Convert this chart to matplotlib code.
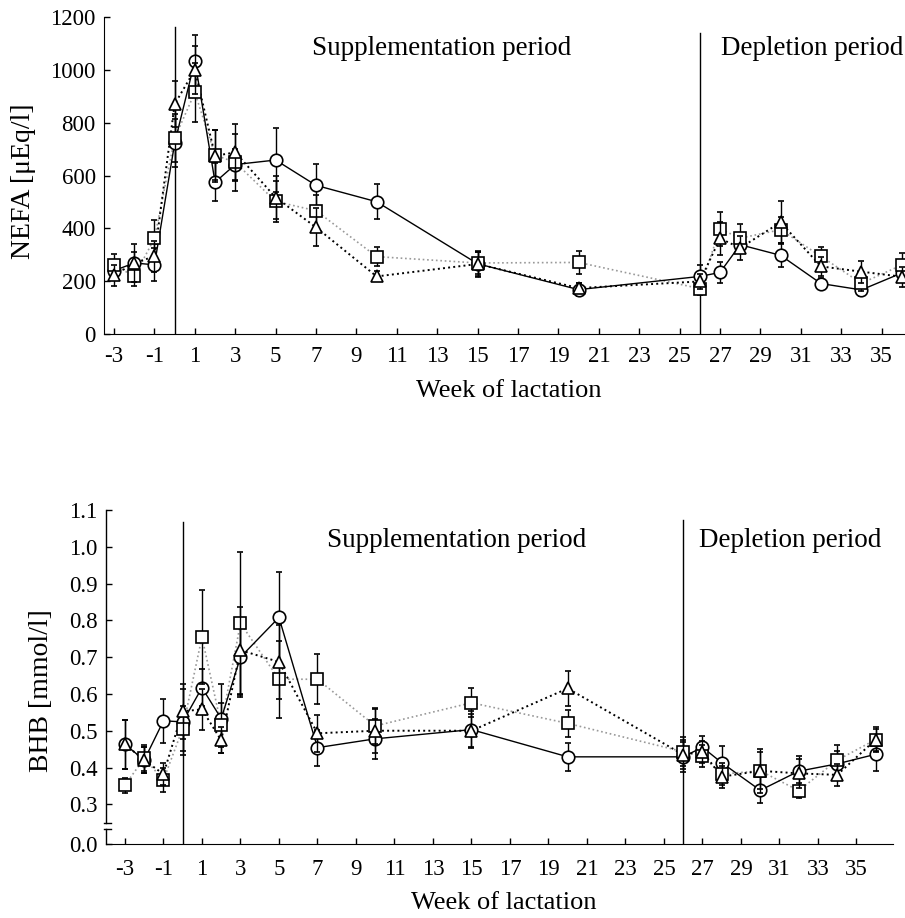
import numpy as np
import matplotlib.pyplot as plt
from matplotlib.lines import Line2D

plt.rcParams['font.family'] = ['Liberation Serif', 'DejaVu Serif']

# 周数（哺乳期）
weeks = [-3, -2, -1, 0, 1, 2, 3, 5, 7, 10, 15, 20, 26, 27, 28, 30, 32, 34, 36]
xticks = list(range(-3, 37, 2))

# NEFA [µEq/l]
nefa_circle = [240, 269, 262, 723, 1035, 575, 642, 659, 563, 501, 266, 168, 218, 233, 338, 298, 191, 167, 231]
nefa_circle_err = [35, 40, 63, 90, 98, 73, 60, 121, 81, 67, 45, 25, 42, 38, 30, 45, 20, 25, 30]
nefa_square = [262, 218, 362, 742, 915, 678, 650, 502, 467, 293, 269, 271, 172, 398, 363, 395, 294, 192, 261]
nefa_square_err = [40, 35, 71, 90, 112, 95, 107, 76, 60, 35, 40, 45, 25, 64, 53, 50, 34, 30, 44]
nefa_tri = [222, 269, 294, 871, 1001, 675, 688, 517, 404, 218, 265, 174, 199, 362, 326, 423, 256, 236, 217]
nefa_tri_err = [40, 71, 60, 88, 90, 98, 108, 80, 72, 19, 50, 20, 30, 62, 46, 82, 35, 42, 38]

# BHB [mmol/l]
bhb_circle = [0.463, 0.420, 0.527, 0.524, 0.617, 0.533, 0.700, 0.808, 0.454, 0.478, 0.503, 0.429, 0.429, 0.455, 0.413, 0.338, 0.390, 0.410, 0.436]
bhb_circle_err = [0.066, 0.035, 0.060, 0.090, 0.050, 0.094, 0.107, 0.124, 0.049, 0.054, 0.050, 0.038, 0.040, 0.030, 0.046, 0.035, 0.040, 0.035, 0.045]
bhb_square = [0.352, 0.425, 0.366, 0.506, 0.755, 0.515, 0.792, 0.640, 0.640, 0.513, 0.576, 0.520, 0.443, 0.431, 0.382, 0.391, 0.337, 0.420, 0.476]
bhb_square_err = [0.020, 0.035, 0.032, 0.060, 0.128, 0.060, 0.195, 0.105, 0.068, 0.050, 0.040, 0.036, 0.040, 0.030, 0.030, 0.060, 0.020, 0.040, 0.033]
bhb_tri = [0.463, 0.420, 0.382, 0.553, 0.558, 0.474, 0.719, 0.687, 0.493, 0.500, 0.500, 0.615, 0.435, 0.443, 0.375, 0.391, 0.384, 0.380, 0.476]
bhb_tri_err = [0.066, 0.035, 0.030, 0.075, 0.056, 0.035, 0.118, 0.100, 0.050, 0.060, 0.045, 0.047, 0.040, 0.030, 0.030, 0.050, 0.040, 0.030, 0.030]

BHB_ZERO = 0.192  # 断轴：0.0 的位置


def draw_series(ax, y_c, e_c, y_s, e_s, y_t, e_t):
    common = dict(color='black', ecolor='black', elinewidth=1, capsize=2,
                  mfc='white', mec='black', mew=1.2, ms=9)
    ax.errorbar(weeks, y_c, yerr=e_c, fmt='-o', lw=1, zorder=3, **common)
    ax.errorbar(weeks, y_s, yerr=e_s, fmt='s', zorder=4, **common)
    ax.plot(weeks, y_s, ':', color='#999999', lw=1.2, zorder=2)
    ax.errorbar(weeks, y_t, yerr=e_t, fmt='^', zorder=5, **common)
    ax.plot(weeks, y_t, ':', color='black', lw=1.4, zorder=2)


def style_axis(ax, xpad):
    for s in ['top', 'right']:
        ax.spines[s].set_visible(False)
    ax.tick_params(direction='in', length=4, labelsize=16.5, width=1)
    ax.tick_params(axis='x', pad=xpad)
    ax.tick_params(axis='y', pad=6)
    ax.set_xticks(xticks)
    ax.set_xticklabels([str(t) for t in xticks])


fig = plt.figure(figsize=(9.05, 9.18), dpi=100)

# 上图：NEFA
ax1 = fig.add_axes([0.1149, 0.6362, 0.8851, 0.345])
draw_series(ax1, nefa_circle, nefa_circle_err, nefa_square, nefa_square_err, nefa_tri, nefa_tri_err)
ax1.set_xlim(-3.5, 36.16)
ax1.set_ylim(0, 1200)
ax1.set_yticks(range(0, 1201, 200))
style_axis(ax1, 9)
ax1.set_xlabel('Week of lactation', fontsize=19)
ax1.xaxis.set_label_coords(0.505, -0.2)
ax1.xaxis.label.set_va('baseline')
ax1.set_ylabel('NEFA [μEq/l]', fontsize=20)
ax1.yaxis.set_label_coords(-0.101, 0.483)
ax1.yaxis.label.set_va('center')
ax1.plot([0, 0], [0, 1163], color='black', lw=1, zorder=1)
ax1.plot([26, 26], [0, 1142], color='black', lw=1, zorder=1)
ax1.text(13.24, 1056, 'Supplementation period', fontsize=19.5, ha='center', va='baseline')
ax1.text(27.05, 1056, 'Depletion period', fontsize=19.5, ha='left', va='baseline')

# 下图：BHB（断轴）
ax2 = fig.add_axes([0.1168, 0.0806, 0.870, 0.3638])
draw_series(ax2, bhb_circle, bhb_circle_err, bhb_square, bhb_square_err, bhb_tri, bhb_tri_err)
ax2.set_xlim(-4.0, 36.9)
ax2.set_ylim(BHB_ZERO, 1.1)
yt = [BHB_ZERO] + [round(0.3 + 0.1 * i, 1) for i in range(9)]
ax2.set_yticks(yt)
ax2.set_yticklabels(['0.0'] + ['%.1f' % v for v in yt[1:]])
style_axis(ax2, 11)
ax2.set_xlabel('Week of lactation', fontsize=19)
ax2.xaxis.set_label_coords(0.505, -0.196)
ax2.xaxis.label.set_va('baseline')
ax2.set_ylabel('BHB [mmol/l]', fontsize=20)
ax2.yaxis.set_label_coords(-0.081, 0.458)
ax2.yaxis.label.set_va('center')
ax2.spines['left'].set_visible(False)
x0 = -4.0
ax2.add_line(Line2D([x0, x0], [BHB_ZERO, 0.233], color='black', lw=1, clip_on=False))
ax2.add_line(Line2D([x0, x0], [0.250, 1.1], color='black', lw=1, clip_on=False))
ax2.add_line(Line2D([x0 - 0.1, x0 + 0.25], [0.233, 0.233], color='black', lw=1, clip_on=False))
ax2.add_line(Line2D([x0 - 0.1, x0 + 0.25], [0.250, 0.250], color='black', lw=1, clip_on=False))
ax2.plot([0, 0], [BHB_ZERO, 1.068], color='black', lw=1, zorder=1)
ax2.plot([26, 26], [BHB_ZERO, 1.073], color='black', lw=1, zorder=1)
ax2.text(14.22, 1.0, 'Supplementation period', fontsize=19.5, ha='center', va='baseline')
ax2.text(26.82, 1.0, 'Depletion period', fontsize=19.5, ha='left', va='baseline')

fig.savefig('out.png', dpi=100)
